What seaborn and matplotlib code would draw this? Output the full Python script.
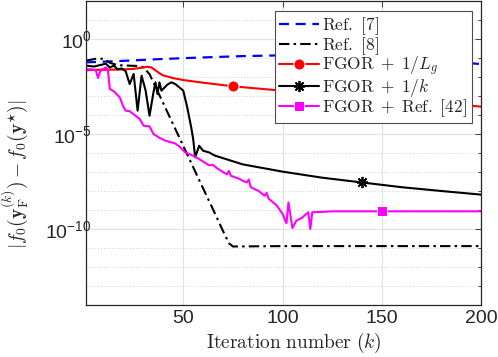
import numpy as np
import pandas as pd
import matplotlib
matplotlib.use("Agg")
import matplotlib.pyplot as plt
import matplotlib.ticker as mticker
import seaborn as sns

# ---------------- data (log10 of |f0(yF^(k)) - f0(y*)|) ----------------
k_ref7 = [1, 20, 40, 60, 80, 100, 120, 140, 160, 180, 200]
log_ref7 = [-1.23, -1.15, -1.05, -0.97, -0.9, -0.86, -0.85, -0.9, -1.0, -1.15, -1.32]

k_ref8 = [1, 4, 7, 10, 13, 17, 22, 27, 30, 33, 40, 51, 58, 65, 70, 73, 75, 100, 150, 200]
log_ref8 = [-1.14, -1.08, -1.02, -1.05, -1.25, -1.38, -1.4, -1.42, -1.5, -1.85,
            -3.4, -5.85, -7.42, -8.97, -10.1, -10.75, -10.92, -10.9, -10.9, -10.9]

k_lg = [1, 5, 10, 15, 20, 25, 30, 32, 34, 36, 38, 40, 45, 50, 60, 75, 90, 100, 125, 150, 175, 200]
log_lg = [-1.65, -1.62, -1.62, -1.61, -1.6, -1.57, -1.5, -1.46, -1.5, -1.65, -1.8, -1.92,
          -2.06, -2.16, -2.3, -2.49, -2.63, -2.72, -2.92, -3.12, -3.33, -3.56]

k_invk = [1, 5, 9, 11, 13, 15, 17, 19, 21, 23, 25, 27, 29, 31, 33, 35, 36, 37, 38, 39,
          42, 44, 46, 50, 52, 54, 55, 56, 58, 60, 63, 66, 80, 100, 120, 140, 160, 180, 200]
log_invk = [-1.4, -1.45, -1.35, -1.3, -1.5, -1.4, -1.6, -1.55, -1.7, -2.37, -1.84, -3.77,
            -1.93, -2.7, -4.04, -2.8, -2.28, -2.9, -2.28, -2.72, -2.4, -2.28, -2.37, -2.72,
            -3.6, -4.65, -5.27, -6.23, -5.62, -5.88, -5.97, -6.14, -6.6, -6.98, -7.3, -7.55,
            -7.8, -8.0, -8.19]

k_r42 = [1, 4, 6, 7, 8, 9, 11, 12, 13, 15, 18, 20, 21, 23, 26, 28, 30, 33, 35, 38, 41, 46,
         48, 51, 54, 57, 60, 63, 65, 67, 70, 72, 73, 74, 78, 80, 82, 83, 84, 88, 91, 92, 93,
         97, 100, 102, 103, 105, 107, 110, 112, 113, 114, 115, 120, 125, 150, 200]
log_r42 = [-1.58, -1.6, -1.65, -2.05, -1.75, -1.62, -1.49, -1.6, -2.63, -2.75, -3.07, -3.6,
           -3.77, -3.8, -4.04, -4.2, -4.56, -4.6, -5.0, -5.2, -5.35, -5.5, -5.65, -5.97,
           -6.1, -6.25, -6.45, -6.65, -6.62, -6.8, -7.0, -7.12, -6.95, -7.2, -7.35, -7.46,
           -7.55, -7.4, -7.8, -8.0, -8.25, -8.1, -8.4, -8.75, -9.2, -9.7, -8.6, -9.95,
           -9.56, -9.4, -9.2, -9.12, -10.0, -9.12, -9.1, -9.07, -9.07, -9.07]

labels = [r'$\mathrm{Ref.\ [7]}$', r'$\mathrm{Ref.\ [8]}$', r'$\mathrm{FGOR}\;+\;1/L_g$',
          r'$\mathrm{FGOR}\;+\;1/k$', r'$\mathrm{FGOR}\;+\;\mathrm{Ref.\ [42]}$']
x_ticks = [50, 100, 150, 200]
y_major = [1e0, 1e-5, 1e-10]

# ---------------- style ----------------
sns.set_theme(style="white")
plt.rcParams['font.family'] = ['Liberation Sans', 'DejaVu Sans']
plt.rcParams['mathtext.fontset'] = 'cm'
plt.rcParams['axes.unicode_minus'] = False

fig = plt.figure(figsize=(4.98, 3.57), dpi=100)
ax = fig.add_axes([86 / 498, 1 - 305 / 357, 395 / 498, 304 / 357])

def frame(k, lg):
    return pd.DataFrame({'k': k, 'v': [10.0 ** v for v in lg]})

sns.lineplot(data=frame(k_ref7, log_ref7), x='k', y='v', ax=ax, color='#0000ff',
             linestyle=(0, (4.5, 3)), lw=1.6, label=labels[0])
sns.lineplot(data=frame(k_ref8, log_ref8), x='k', y='v', ax=ax, color='black',
             linestyle=(0, (5, 2, 1.2, 2)), lw=1.5, label=labels[1])
sns.lineplot(data=frame(k_lg, log_lg), x='k', y='v', ax=ax, color='#ff0000', lw=1.5,
             marker='o', markersize=8, markevery=[k_lg.index(75)], label=labels[2])
sns.lineplot(data=frame(k_invk, log_invk), x='k', y='v', ax=ax, color='black', lw=1.5,
             marker=(8, 2, 0), markersize=8, markeredgewidth=1.3, markeredgecolor='black',
             markevery=[k_invk.index(140)], label=labels[3])
sns.lineplot(data=frame(k_r42, log_r42), x='k', y='v', ax=ax, color='#ff00ff', lw=1.5,
             marker='s', markersize=7, markevery=[k_r42.index(150)], label=labels[4])

ax.set_yscale('log')
ax.set_xlim(1, 200)
ax.set_ylim(1e-14, 1e2)
ax.xaxis.set_major_locator(mticker.FixedLocator(x_ticks))
ax.yaxis.set_major_locator(mticker.FixedLocator(y_major))
ax.yaxis.set_minor_locator(mticker.FixedLocator([10.0 ** e for e in range(-14, 3) if e not in (0, -5, -10)]))
ax.yaxis.set_minor_formatter(mticker.NullFormatter())
ax.yaxis.set_major_formatter(mticker.LogFormatterSciNotation())

ax.tick_params(which='both', direction='in', top=True, right=True, colors='#262626',
               labelcolor='#262626', labelsize=14)
ax.tick_params(which='major', length=4, width=0.6)
ax.tick_params(which='minor', length=2.5, width=0.6)
ax.tick_params(axis='y', which='major', pad=-4)

ax.grid(True, which='major', color='#e3e3e3', lw=0.9, ls='-')
ax.grid(True, which='minor', axis='y', color='#cfcfcf', lw=0.7, ls=(0, (1, 2)))
ax.set_axisbelow(True)
for s in ax.spines.values():
    s.set_color('#262626')
    s.set_linewidth(0.9)

ax.set_xlabel(r'$\mathrm{Iteration\ number}\ (k)$', fontsize=14, color='#262626')
ax.set_ylabel(r'$|f_0(\mathbf{y}_{\mathrm{F}}^{(k)}) - f_0(\mathbf{y}^{\star})|$', fontsize=14,
              color='#262626')
ax.xaxis.set_label_coords(0.527, -0.086)
ax.yaxis.set_label_coords(-0.143, 0.43)

leg = ax.legend(loc='upper right', bbox_to_anchor=(0.9765, 0.967), borderaxespad=0,
                fontsize=12.5, frameon=True, fancybox=False, framealpha=1,
                edgecolor='#4d4d4d', handlelength=2.3, handletextpad=0.2,
                labelspacing=-0.1, borderpad=0.25)
leg.get_frame().set_linewidth(0.8)

fig.savefig('out.png', dpi=100)
